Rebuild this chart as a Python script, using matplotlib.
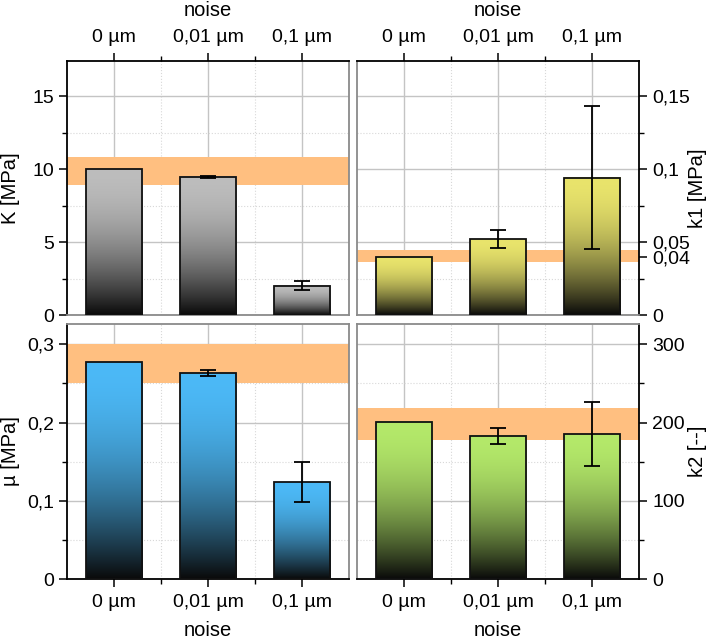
import numpy as np
import matplotlib
matplotlib.use("Agg")
from matplotlib import pyplot as plt
from matplotlib.colors import to_rgb
from matplotlib.ticker import FixedLocator, FuncFormatter

plt.rcParams['font.family'] = ['Liberation Sans', 'DejaVu Sans']

# categories
noise = ["0 µm", "0,01 µm", "0,1 µm"]

# K [MPa]
K_val = [10.0, 9.48, 2.02]
K_err = [0.0, 0.07, 0.28]
K_band = (8.9, 10.85)

# k1 [MPa]
k1_val = [0.040, 0.052, 0.094]
k1_err = [0.0, 0.006, 0.049]
k1_band = (0.0365, 0.0443)

# mu [MPa]
mu_val = [0.277, 0.263, 0.124]
mu_err = [0.0, 0.004, 0.026]
mu_band = (0.25, 0.30)

# k2 [--]
k2_val = [201, 183, 185]
k2_err = [0, 10, 41]
k2_band = (178, 218)

top_cols = {"K": "#bdbdbd", "k1": "#e9e46c", "mu": "#4cb9f7", "k2": "#b4e96a"}
dark = "#0a0a0a"
band_col = "#ffbf80"
inner = "#8a8a8a"


def fmt(v, pos):
    return ("%g" % round(v, 6)).replace(".", ",")


def grad_bar(ax, x, h, w, top, bottom):
    s = np.linspace(0, 1, 256)  # 0 at bottom, 1 at top
    t = 1 - (1 - s) ** 1.9
    c1 = np.array(to_rgb(top))
    c0 = np.array(to_rgb(bottom))
    img = c0[None, :] * (1 - t[:, None]) + c1[None, :] * t[:, None]
    img = img[:, None, :]
    ax.imshow(img, extent=[x - w / 2, x + w / 2, 0, h], origin="lower",
              aspect="auto", zorder=3, interpolation="bilinear")
    ax.add_patch(plt.Rectangle((x - w / 2, 0), w, h, fill=False,
                               edgecolor="#111111", lw=1.3, zorder=4))


def panel(ax, vals, errs, band, ymax, major, minor, col, label, side, xside, extra=None):
    x = np.arange(len(vals))
    w = 0.6
    ax.set_xlim(-0.5, 2.5)
    ax.set_ylim(0, ymax)
    for xi, v in zip(x, vals):
        grad_bar(ax, xi, v, w, col, dark)
    e = np.array(errs)
    m = e > 0
    ax.errorbar(x[m], np.array(vals)[m], yerr=e[m], fmt="none", ecolor="black",
                elinewidth=1.3, capsize=6, capthick=1.3, zorder=5)
    ax.axhspan(band[0], band[1], color=band_col, lw=0, zorder=2)
    ax.set_xticks(x)
    ax.set_xticklabels(noise)
    ax.xaxis.set_minor_locator(FixedLocator([0.5, 1.5]))
    yt = list(np.arange(0, ymax, major))
    ax.yaxis.set_major_locator(FixedLocator(yt + ([extra] if extra else [])))
    ax.yaxis.set_minor_locator(FixedLocator(list(np.arange(minor, ymax, major))))
    ax.yaxis.set_major_formatter(FuncFormatter(fmt))
    ax.grid(True, which="major", color="#c4c4c4", lw=1.0, zorder=0)
    ax.grid(True, which="minor", color="#d8d8d8", lw=0.8, ls=":", zorder=0)
    if extra:
        ax.get_ygridlines()[-1].set_visible(False)
    ax.set_axisbelow(True)
    ax.tick_params(which="major", direction="out", length=6, width=1.1, labelsize=14)
    ax.tick_params(which="minor", direction="out", length=3.5, width=1.0)
    ax.tick_params(axis="x", which="major", pad=5)
    for sp in ax.spines.values():
        sp.set_linewidth(1.3)
        sp.set_color(inner)
    ax.spines[side].set_color("black")
    ax.spines[xside].set_color("black")
    if side == "right":
        ax.yaxis.tick_right()
        ax.yaxis.set_label_position("right")
        ax.set_ylabel(label, fontsize=14.5, rotation=90)
        ax.yaxis.set_label_coords(1.209, 0.5)
    else:
        ax.set_ylabel(label, fontsize=14.5)
        ax.yaxis.set_label_coords(-0.199, 0.5)
    ax.yaxis.label.set_va("center")
    if xside == "top":
        ax.xaxis.tick_top()
        ax.xaxis.set_label_position("top")
        ax.set_xlabel("noise", fontsize=14.5)
        ax.xaxis.set_label_coords(0.5, 1.20)
    else:
        ax.set_xlabel("noise", fontsize=14.5)
        ax.xaxis.set_label_coords(0.5, -0.2)
    ax.xaxis.label.set_va("center")


fig = plt.figure(figsize=(7.09, 6.41), dpi=100)
W, H = 709, 641


def box(l, r, t, b):
    return [l / W, 1 - b / H, (r - l) / W, (b - t) / H]


ax1 = fig.add_axes(box(67, 349, 61, 315))
ax2 = fig.add_axes(box(357, 639, 61, 315))
ax3 = fig.add_axes(box(67, 349, 324, 579))
ax4 = fig.add_axes(box(357, 639, 324, 579))

panel(ax1, K_val, K_err, K_band, 17.4, 5, 2.5, top_cols["K"], "K [MPa]", "left", "top")
panel(ax2, k1_val, k1_err, k1_band, 0.174, 0.05, 0.025, top_cols["k1"], "k1 [MPa]", "right", "top", extra=0.04)
panel(ax3, mu_val, mu_err, mu_band, 0.326, 0.1, 0.05, top_cols["mu"], "µ [MPa]", "left", "bottom")
panel(ax4, k2_val, k2_err, k2_band, 326, 100, 50, top_cols["k2"], "k2 [--]", "right", "bottom")

fig.savefig("out.png", dpi=100)
